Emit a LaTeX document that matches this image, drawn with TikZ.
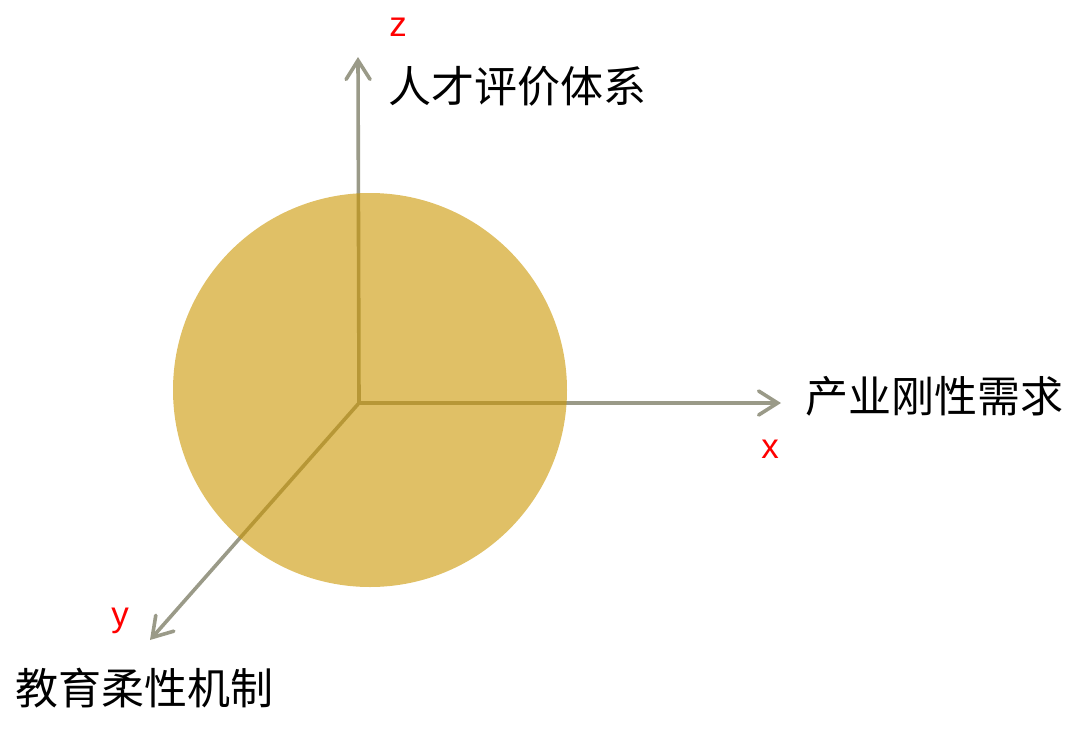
\documentclass[tikz,border=0pt]{standalone}
\usepackage{fontspec}
\newfontfamily\cjk{Noto Sans CJK SC}
\setsansfont{Liberation Sans}
\usetikzlibrary{arrows.meta}
\definecolor{axisgray}{RGB}{154,154,136}
\definecolor{ballgold}{RGB}{203,150,0}
\begin{document}
\begin{tikzpicture}[x=1pt,y=-1pt,
  axisline/.style={draw=axisgray,line width=3.6pt,-{Straight Barb[length=19pt,width=24pt,line cap=round]}},
  cjklabel/.style={font=\cjk\fontsize{43}{48}\selectfont,text=black,inner sep=0pt},
  axisletter/.style={font=\sffamily\fontsize{35}{38}\selectfont,text=red,inner sep=0pt}]
\useasboundingbox (0,0) rectangle (1080,729);
\coordinate (o) at (359,403);
\coordinate (zt) at (358,57);
\coordinate (xt) at (781,403);
\coordinate (yt) at (150,640);
\draw[axisline] (o) -- (zt);
\draw[axisline] (o) -- (xt);
\draw[axisline] (o) -- (yt);
\fill[ballgold,fill opacity=0.6] (370,390) circle[radius=197];
\node[cjklabel,anchor=west] (zl) at (388,86) {人才评价体系};
\node[cjklabel,anchor=west] (xl) at (805,396) {产业刚性需求};
\node[cjklabel,anchor=west] (yl) at (15,688) {教育柔性机制};
\node[axisletter] (zn) at (398,27) {z};
\node[axisletter] (xn) at (770,449) {x};
\node[axisletter] (yn) at (120,621) {y};
\end{tikzpicture}
\end{document}
